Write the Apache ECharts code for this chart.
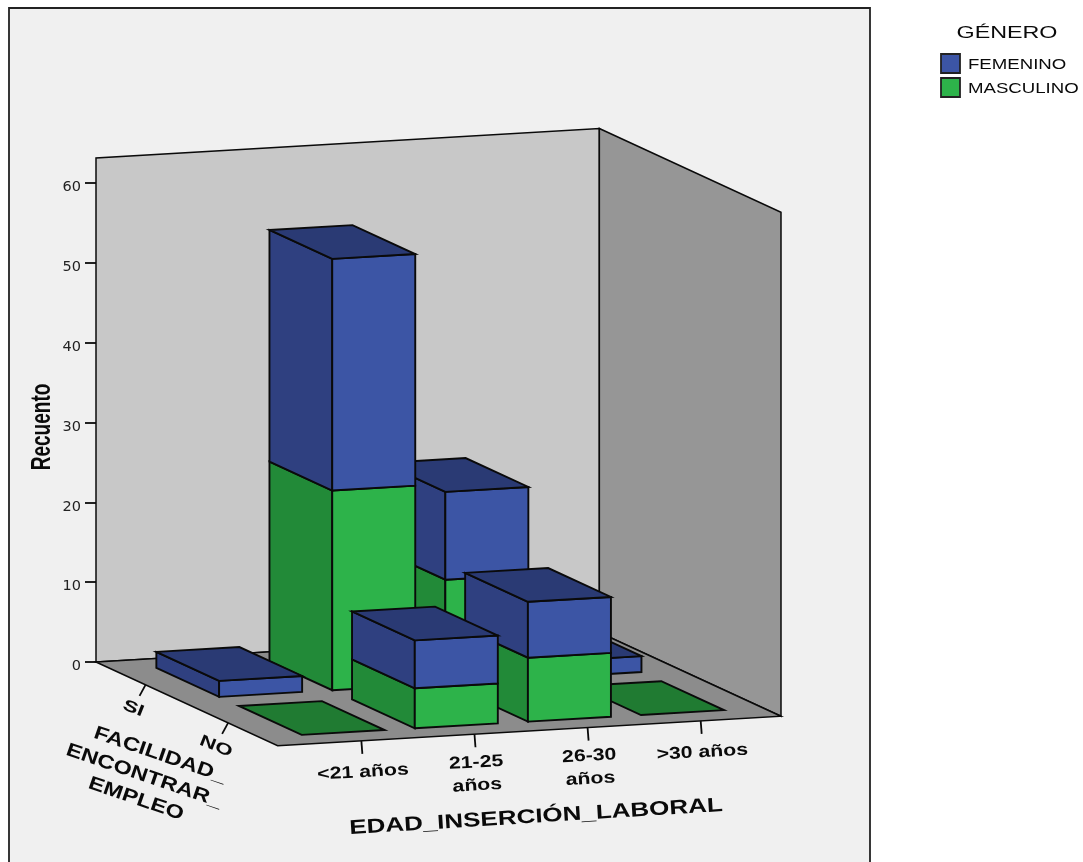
<!DOCTYPE html>
<html>
<head>
<meta charset="utf-8">
<style>html,body{margin:0;padding:0;background:#fff}#chart{width:1083px;height:862px}</style>
<script src="https://cdn.jsdelivr.net/npm/echarts@6/dist/echarts.min.js"></script>
</head>
<body>
<div id="chart"></div>
<script>
// Counts by age at first job (columns) and ease of finding work (rows).
const ageLabels = ['<21 años', '21-25\naños', '26-30\naños', '>30 años'];
const facilityLabels = ['SI', 'NO'];
const countTicks = [0, 10, 20, 30, 40, 50, 60];
const femeninoSi = [2, 29, 11, 2];
const femeninoNo = [0, 6, 7, 0];
const masculinoSi = [0, 25, 13, 0];
const masculinoNo = [0, 5, 8, 0];

// Oblique projection: age and facility steps expressed in axis units.
const AGE_UP = 0.83, FAC_RUN = 0.73, FAC_DOWN = 4.765;
const FLOOR_AGE = 4.45, FLOOR_FAC = 2.2, WALL_TOP = 63.1;
const AGE_START = 0.74, FAC_START = 0.6, HALF_AGE = 0.367, HALF_FAC = 0.38;
const INK = '#0a0a0a';
const FONT = '"Liberation Sans", Arial, sans-serif';

const COLORS = {
  FEMENINO: { front: '#3C55A5', side: '#2F4080', top: '#2A3A74' },
  MASCULINO: { front: '#2DB34A', side: '#228A38', top: '#207B32' }
};

function project(a, b, v) {
  return [a + FAC_RUN * b, v + AGE_UP * a - FAC_DOWN * b];
}

function poly(api, corners, fill, z2, lineWidth) {
  return {
    type: 'polygon',
    z2: z2,
    shape: { points: corners.map(c => api.coord(project(c[0], c[1], c[2]))) },
    style: { fill: fill, stroke: INK, lineWidth: lineWidth, lineJoin: 'miter' }
  };
}

// Back wall, side wall and floor of the box.
function renderBox(params, api) {
  const A = FLOOR_AGE, B = FLOOR_FAC, H = WALL_TOP;
  return {
    type: 'group',
    children: [
      poly(api, [[0, 0, 0], [A, 0, 0], [A, 0, H], [0, 0, H]], '#C8C8C8', 1, 1.5),
      poly(api, [[A, 0, 0], [A, B, 0], [A, B, H], [A, 0, H]], '#969696', 1, 1.5),
      poly(api, [[0, 0, 0], [A, 0, 0], [A, B, 0], [0, B, 0]], '#8C8C8C', 2, 1.5)
    ]
  };
}

// One stacked segment: side face, front face and, when it closes the column, the top.
function renderSegment(params, api) {
  const age = api.value(0), fac = api.value(1), base = api.value(2), count = api.value(3);
  const closes = api.value(4), layer = api.value(5);
  const colors = COLORS[params.seriesName];
  if (count === 0 && !closes) return null;
  const a0 = age + AGE_START - HALF_AGE, a1 = age + AGE_START + HALF_AGE;
  const b0 = fac + FAC_START - HALF_FAC, b1 = fac + FAC_START + HALF_FAC;
  const top = base + count;
  const order = 100 + fac * 100 + (3 - age) * 10 + layer * 4;
  const faces = [];
  if (count > 0) {
    faces.push(poly(api, [[a0, b0, base], [a0, b1, base], [a0, b1, top], [a0, b0, top]], colors.side, order, 1.9));
    faces.push(poly(api, [[a0, b1, base], [a1, b1, base], [a1, b1, top], [a0, b1, top]], colors.front, order + 1, 1.9));
  }
  if (closes) {
    faces.push(poly(api, [[a0, b0, top], [a1, b0, top], [a1, b1, top], [a0, b1, top]], colors.top, order + 2, 1.9));
  }
  return { type: 'group', children: faces };
}

function floorText(text, at, size, rotation, stretch) {
  return {
    type: 'text', x: at[0], y: at[1], rotation: rotation, scaleX: stretch, z2: 5,
    style: { text: text, fill: INK, font: 'bold ' + size + 'px ' + FONT, align: 'center', verticalAlign: 'top', lineHeight: 23 }
  };
}

function tickLine(from, dx, dy) {
  return {
    type: 'line', z2: 5,
    shape: { x1: from[0], y1: from[1], x2: from[0] + dx, y2: from[1] + dy },
    style: { stroke: INK, lineWidth: 1.8 }
  };
}

// Age ticks along the front edge of the floor, with their labels.
function renderAgeTick(params, api) {
  const i = api.value(0);
  const p = api.coord(project(i + AGE_START, FLOOR_FAC, 0));
  const lifted = ageLabels[i].indexOf('\n') < 0 ? 20 : 17;
  return {
    type: 'group',
    children: [
      tickLine(p, 1, 13),
      floorText(ageLabels[i], [p[0] + 1, p[1] + lifted], 17, 0.055, 1.25)
    ]
  };
}

// Facility ticks along the left edge of the floor, with their labels.
function renderFacilityTick(params, api) {
  const j = api.value(0);
  const p = api.coord(project(0, j + FAC_START, 0));
  return {
    type: 'group',
    children: [
      tickLine(p, -6, 11),
      floorText(facilityLabels[j], [p[0] - 8, p[1] + 13], 16, -0.38, 1.42)
    ]
  };
}

function segments(rowsByFacility, baseRows, upperRows) {
  const out = [];
  rowsByFacility.forEach((row, fac) => {
    row.forEach((count, age) => {
      const base = baseRows ? baseRows[fac][age] : 0;
      const above = upperRows ? upperRows[fac][age] : 0;
      // The lower segment closes an empty column so that it still shows on the floor.
      const closes = upperRows ? above === 0 : count > 0;
      out.push([age, fac, base, count, closes ? 1 : 0, upperRows ? 0 : 1]);
    });
  });
  return out;
}

const masculinoRows = [masculinoSi, masculinoNo];
const femeninoRows = [femeninoSi, femeninoNo];
const DIMS = ['age', 'facility', 'base', 'count', 'closes', 'layer'];
const BAR_ENCODE = { x: 'age', y: 'count' };

function bannerText(text, x, y, size, weight, rotation, scaleX) {
  return {
    type: 'text', x: x, y: y, rotation: rotation, scaleX: scaleX,
    style: { text: text, fill: INK, font: weight + ' ' + size + 'px ' + FONT, align: 'center', verticalAlign: 'middle' }
  };
}

function legendEntry(name, top) {
  return [
    { type: 'rect', shape: { x: 941, y: top, width: 19, height: 19 },
      style: { fill: COLORS[name].front, stroke: '#222', lineWidth: 1.8 } },
    { type: 'text', x: 968, y: top + 11, scaleX: 1.33,
      style: { text: name, fill: INK, font: '14px ' + FONT, align: 'left', verticalAlign: 'middle' } }
  ];
}

const chart = echarts.init(document.getElementById('chart'), null, { renderer: 'canvas' });
chart.setOption({
  backgroundColor: '#fff',
  animation: false,
  grid: { left: 96, top: 158, width: 685, height: 504, containLabel: false },
  xAxis: { type: 'value', min: 0, max: FLOOR_AGE + FAC_RUN * FLOOR_FAC, show: false },
  yAxis: {
    type: 'value', min: 0, max: WALL_TOP,
    axisLine: { show: false },
    splitLine: { show: false },
    axisTick: { show: true, length: 11, customValues: countTicks, lineStyle: { color: INK, width: 1.8 } },
    axisLabel: {
      customValues: countTicks, margin: 15, verticalAlign: 'top', lineHeight: 9,
      color: '#222', fontFamily: '"DejaVu Sans"', fontSize: 14.5
    }
  },
  graphic: {
    elements: [
      { type: 'rect', z: -1, shape: { x: 9, y: 8, width: 861, height: 870 },
        style: { fill: '#F0F0F0', stroke: '#222', lineWidth: 1.8 } },
      bannerText('Recuento', 42, 427, 28, 'bold', Math.PI / 2, 0.68),
      bannerText('FACILIDAD_', 160, 755, 19, 'bold', -0.33, 1.24),
      bannerText('ENCONTRAR_', 144, 776, 19, 'bold', -0.33, 1.24),
      bannerText('EMPLEO', 136, 799, 19, 'bold', -0.33, 1.24),
      bannerText('EDAD_INSERCIÓN_LABORAL', 536, 817, 20, 'bold', 0.062, 1.3),
      bannerText('GÉNERO', 1007, 33, 17, 'normal', 0, 1.37)
    ].concat(legendEntry('FEMENINO', 54), legendEntry('MASCULINO', 78))
  },
  series: [
    { type: 'custom', name: 'Caja', silent: true, data: [[0]], renderItem: renderBox, encode: { x: 0 } },
    { type: 'custom', name: 'MASCULINO', silent: true, dimensions: DIMS, encode: BAR_ENCODE,
      data: segments(masculinoRows, null, femeninoRows), renderItem: renderSegment },
    { type: 'custom', name: 'FEMENINO', silent: true, dimensions: DIMS, encode: BAR_ENCODE,
      data: segments(femeninoRows, masculinoRows, null), renderItem: renderSegment },
    { type: 'custom', name: 'Edad', silent: true, data: ageLabels.map((_, i) => [i]), renderItem: renderAgeTick, encode: { x: 0 } },
    { type: 'custom', name: 'Facilidad', silent: true, data: facilityLabels.map((_, j) => [j]), renderItem: renderFacilityTick, encode: { x: 0 } }
  ]
});
</script>
</body>
</html>
